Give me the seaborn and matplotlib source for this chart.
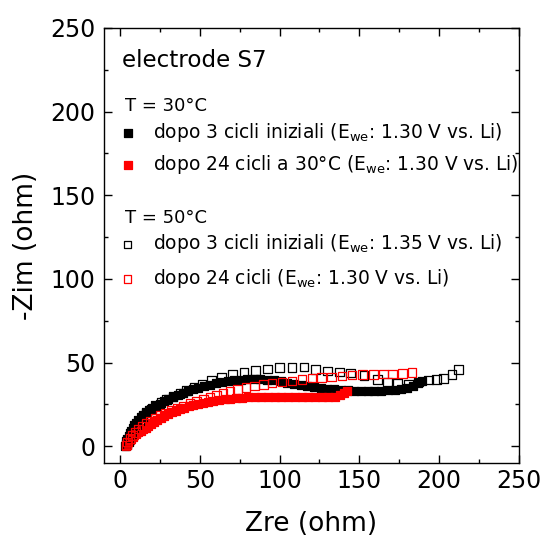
import matplotlib
matplotlib.use("Agg")
import matplotlib.pyplot as plt
import seaborn as sns

# ---- data ----
# T = 30 C, after 3 initial cycles (filled black)
bf_x = [3.0,3.5,4.0,4.7,5.4,6.2,7.0,8.0,9.0,10.2,11.5,13.0,14.6,16.3,18.2,20.3,22.6,25.0,27.6,30.3,
        33.2,36.2,39.3,42.5,45.8,49.2,52.7,56.3,60.0,63.8,67.7,71.6,75.6,79.7,83.8,88.0,92.2,96.4,100.6,104.8,
        109.0,113.2,117.4,121.6,125.8,130.0,134.2,138.4,142.6,146.8,151.0,155.2,159.4,163.6,167.8,172.0,176.0,180.0,183.5,186.5,189.0]
bf_y = [0.0,1.5,3.0,4.6,6.2,7.8,9.4,11.0,12.6,14.2,15.8,17.4,18.9,20.3,21.7,23.0,24.3,25.5,26.8,28.0,
        29.3,30.5,31.7,32.9,34.0,35.0,36.0,36.9,37.7,38.4,39.0,39.5,39.8,40.0,40.1,40.1,39.9,39.4,38.8,38.1,
        37.4,36.7,36.0,35.4,34.9,34.5,34.1,33.8,33.5,33.3,33.2,33.1,33.1,33.2,33.4,33.7,34.2,35.0,36.2,37.6,39.0]
# T = 30 C, after 24 cycles (filled red)
rf_x = [4.0,4.6,5.3,6.1,7.0,8.0,9.1,10.3,11.6,13.0,14.5,16.1,17.8,19.6,21.5,23.5,25.6,27.8,30.1,32.5,
        35.0,37.6,40.3,43.1,46.0,49.0,52.1,55.3,58.6,62.0,65.5,69.1,72.8,76.6,80.5,84.5,88.6,92.8,97.0,101.2,
        105.4,109.6,113.8,118.0,122.2,126.4,130.6,134.5,137.8,140.5,142.5]
rf_y = [0.0,1.2,2.4,3.5,4.6,5.6,6.6,7.5,8.4,9.3,10.2,11.2,12.3,13.4,14.6,15.8,16.9,18.1,19.2,20.2,
        21.2,22.1,23.0,23.8,24.6,25.3,25.9,26.5,27.1,27.6,28.0,28.4,28.7,29.0,29.2,29.4,29.5,29.6,29.7,29.7,
        29.6,29.5,29.4,29.3,29.2,29.2,29.3,29.7,30.6,31.9,33.2]
# T = 50 C, after 3 initial cycles (open black)
bo_x = [4.5,5.2,6.2,7.4,8.8,10.4,12.2,14.3,16.7,19.4,22.4,25.7,29.3,33.2,37.5,41.8,46.5,51.5,57.2,63.5,
        70.5,77.7,85.0,92.5,99.9,107.8,115.3,122.5,130.0,137.7,144.6,153.0,161.4,167.7,173.9,180.7,186.9,193.2,198.3,202.7,
        207.9,212.1]
bo_y = [1.0,3.0,5.3,7.7,10.2,12.7,15.2,17.7,20.0,22.3,24.3,26.3,28.0,29.8,31.6,33.3,35.0,37.2,39.2,41.0,
        42.8,44.0,45.2,46.3,47.0,47.0,47.5,46.0,45.0,44.5,43.9,42.3,39.9,38.0,37.5,37.1,38.5,39.7,39.9,40.5,
        42.8,46.0]
# T = 50 C, after 24 cycles (open red)
ro_x = [4.2,4.8,6.3,7.9,9.6,11.7,13.8,16.3,18.8,21.9,25.1,28.5,32.0,36.2,39.8,44.0,48.1,52.3,56.5,60.5,
        64.5,69.0,73.7,78.9,84.2,89.8,95.3,101.5,107.8,114.1,120.4,126.2,132.5,139.2,145.5,151.8,158.7,165.0,170.9,176.9,
        183.0]
ro_y = [0.8,2.6,4.6,6.6,8.2,10.2,12.0,13.6,15.2,17.0,18.6,20.0,21.6,23.0,24.2,25.5,26.8,28.0,29.2,30.5,
        31.6,32.8,33.9,35.0,36.0,37.0,37.9,38.5,39.1,39.9,40.7,41.1,41.5,42.1,42.5,42.9,42.9,43.1,43.3,43.5,
        44.0]

labels = [r"dopo 3 cicli iniziali (E$_{\mathrm{we}}$: 1.30 V vs. Li)",
          r"dopo 24 cicli a 30°C (E$_{\mathrm{we}}$: 1.30 V vs. Li)",
          r"dopo 3 cicli iniziali (E$_{\mathrm{we}}$: 1.35 V vs. Li)",
          r"dopo 24 cicli (E$_{\mathrm{we}}$: 1.30 V vs. Li)"]
title_text = "electrode S7"
group_titles = ["T = 30°C", "T = 50°C"]
xticks = [0, 50, 100, 150, 200, 250]
yticks = [0, 50, 100, 150, 200, 250]

# ---- style ----
sns.set_style("ticks")
plt.rcParams["font.family"] = ["DejaVu Sans"]
plt.rcParams["mathtext.fontset"] = "dejavusans"
plt.rcParams["text.color"] = "black"
plt.rcParams["axes.labelcolor"] = "black"
plt.rcParams["xtick.color"] = "black"
plt.rcParams["ytick.color"] = "black"

fig = plt.figure(figsize=(5.44, 5.37), dpi=100)
ax = fig.add_axes([0.19118, 0.13780, 0.76287, 0.81006])

S = 38
series = [(bf_x, bf_y, "black", True), (rf_x, rf_y, "red", True),
          (bo_x, bo_y, "black", False), (ro_x, ro_y, "red", False)]
handles = []
for (xs, ys, col, filled), lab in zip(series, labels):
    sns.scatterplot(x=xs, y=ys, ax=ax, marker="s", s=S, color=col,
                    edgecolor=col, linewidth=0.9, legend=False, zorder=3)
    coll = ax.collections[-1]
    if not filled:
        coll.set_facecolor("none")
    coll.set_edgecolor(col)
    coll.set_label(lab)
    handles.append(coll)

ax.set_xlim(-10, 250)
ax.set_ylim(-10, 250)
ax.set_xticks(xticks)
ax.set_yticks(yticks)
ax.set_xticks([25, 75, 125, 175, 225], minor=True)
ax.set_yticks([25, 75, 125, 175, 225], minor=True)
ax.tick_params(which="both", direction="in", top=True, right=True, colors="black", width=1)
ax.tick_params(which="major", length=5.5)
ax.tick_params(which="minor", length=3)
ax.tick_params(axis="x", labelsize=17, pad=4)
ax.tick_params(axis="y", labelsize=17, pad=6)
for sp in ax.spines.values():
    sp.set_visible(True)
    sp.set_color("black")
    sp.set_linewidth(1.0)

ax.set_xlabel("Zre (ohm)", fontsize=19, labelpad=13)
ax.set_ylabel("-Zim (ohm)", fontsize=19, labelpad=8)

ax.text(0.0427, 0.9097, title_text, transform=ax.transAxes, fontsize=16.6,
        ha="left", va="baseline")
ax.text(0.0506, 0.809, group_titles[0], transform=ax.transAxes, fontsize=13,
        ha="left", va="baseline")
ax.text(0.0506, 0.551, group_titles[1], transform=ax.transAxes, fontsize=13,
        ha="left", va="baseline")

leg_kw = dict(loc="center left", frameon=False, fontsize=13.4, handlelength=0.5,
              handletextpad=1.1, borderpad=0, borderaxespad=0, scatterpoints=1,
              markerscale=0.85)
leg1 = ax.legend(handles=handles[:2], bbox_to_anchor=(0.0455, 0.7233),
                 labelspacing=0.45, **leg_kw)
ax.add_artist(leg1)
leg2 = ax.legend(handles=handles[2:], bbox_to_anchor=(0.0455, 0.4639),
                 labelspacing=0.62, **leg_kw)

fig.savefig("out.png", dpi=100)
